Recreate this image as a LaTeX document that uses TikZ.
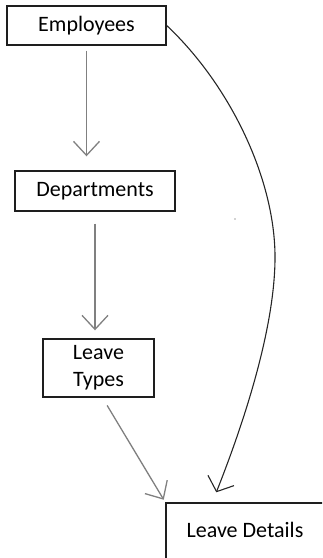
\documentclass[tikz,border=0pt]{standalone}
\usepackage{fontspec}
\setmainfont{Carlito}
\usetikzlibrary{arrows.meta}
\definecolor{boxline}{RGB}{30,30,30}
\definecolor{flowgray}{RGB}{128,128,128}
\begin{document}
\begin{tikzpicture}[x=1pt,y=-1pt,
  entity/.style={draw=boxline, line width=1.4pt, inner sep=0pt,
    font=\fontsize{22}{27}\selectfont, align=center},
  flow/.style={draw=flowgray, line width=1.3pt,
    -{Straight Barb[length=14pt,width=26pt]}},
  link/.style={draw=black!85, line width=1.1pt,
    -{Straight Barb[length=12pt,width=28pt]}}]
\useasboundingbox (0,0) rectangle (322,558);
\clip (0,0) rectangle (322,558);

% entities
\node[entity, minimum width=159pt, minimum height=39pt] (emp) at (86.5,25.5) {Employees};
\node[entity, minimum width=160pt, minimum height=40pt] (dep) at (95,191) {Departments};
\node[entity, minimum width=111pt, minimum height=58pt] (lt) at (98.5,368) {Leave\\Types};
\node[entity, minimum width=158pt, minimum height=60pt, text depth=7pt] (ld) at (245,533) {Leave Details};

% end point of the curved link, just above the Leave Details box
\coordinate (ldtip) at ([xshift=51pt,yshift=10pt]ld.north west);

% straight relationships
\draw[flow, shorten <=5pt, shorten >=14pt] (emp.south) -- (emp.south |- dep.north);
\draw[flow, shorten <=12pt, shorten >=8pt] (dep.south) -- (dep.south |- lt.north);
\draw[flow, shorten <=9pt, shorten >=3pt] ([xshift=4pt]lt.south) -- (ld.north west);

% curved relationship from Employees to Leave Details
\draw[link] (emp.east) .. controls (230,85) and (276,180) .. (275,260)
  .. controls (274,340) and (235,445) .. (ldtip);

% small speck
\fill[flowgray!70] (235,219) circle (0.8pt);
\end{tikzpicture}
\end{document}
